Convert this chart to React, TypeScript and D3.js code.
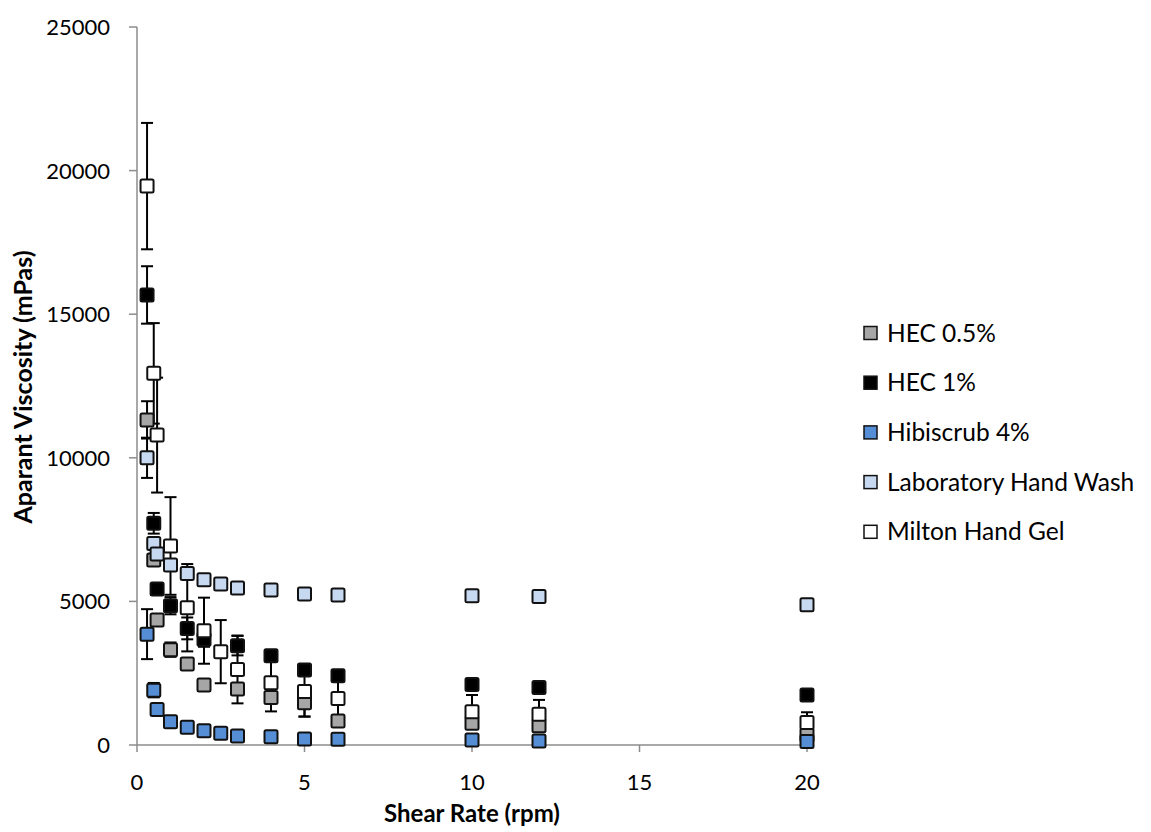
import React from "react";
import * as d3 from "d3";

const shearRates = [0.3, 0.5, 0.6, 1, 1.5, 2, 2.5, 3, 4, 5, 6, 10, 12, 20];

// values aligned with shearRates; null = no measurement
const hec05 = [11320, 6440, 4350, 3320, 2820, 2090, null, 1950, 1650, 1470, 840, 760, 670, 350];
const hec05Err = [650, 150, 150, 250, 150, 150, null, 150, 150, 480, 150, 150, 150, 150];
const hec1 = [15670, 7720, 5430, 4850, 4060, 3680, null, 3460, 3110, 2610, 2410, 2110, 2000, 1740];
const hec1Err = [1000, 360, 150, 300, 380, 260, null, 340, 150, 150, 150, 150, 150, 150];
const hibiscrub = [3860, 1910, 1240, 810, 620, 500, 410, 310, 290, 210, 200, 170, 140, 120];
const hibiscrubErr = [870, 250, 100, 100, 100, 100, 100, 100, 100, 100, 100, 100, 100, 100];
const labWash = [10000, 7020, 6650, 6270, 5970, 5750, 5610, 5470, 5400, 5260, 5220, 5200, 5170, 4880];
const labWashErr = [700, 150, 150, 150, 150, 150, 150, 150, 150, 150, 150, 150, 150, 150];
const milton = [19460, 12940, 10790, 6930, 4780, 3980, 3250, 2630, 2170, 1860, 1620, 1160, 1070, 780];
const miltonErr = [2200, 1750, 2000, 1700, 1520, 1150, 1100, 1180, 1000, 870, 800, 580, 500, 360];

const seriesNames = ["HEC 0.5%", "HEC 1%", "Hibiscrub 4%", "Laboratory Hand Wash", "Milton Hand Gel"];
const seriesColors = ["#a6a6a6", "#000000", "#558ed5", "#c6d9f1", "#ffffff"];
const seriesValues = [hec05, hec1, hibiscrub, labWash, milton];
const seriesErrors = [hec05Err, hec1Err, hibiscrubErr, labWashErr, miltonErr];

const xTicks = [0, 5, 10, 15, 20];
const yTicks = [0, 5000, 10000, 15000, 20000, 25000];

const FONT = "Lato, 'Open Sans', sans-serif";

export default function App() {
  const W = 1151;
  const H = 832;
  const x = d3.scaleLinear().domain([0, 20]).range([137, 807]);
  const y = d3.scaleLinear().domain([0, 25000]).range([745, 27]);
  const axisColor = "#8c8c8c";
  const ms = 13;
  const cap = 6;

  const points = seriesValues.map((vals, si) =>
    shearRates
      .map((sr, i) => ({ sr, v: vals[i], e: seriesErrors[si][i] }))
      .filter((p) => p.v !== null)
  );

  return (
    <svg width={W} height={H} style={{ position: "absolute", left: 0, top: 0 }}>
      <rect x={0} y={0} width={W} height={H} fill="#fff" />
      {/* axes */}
      <line x1={x(0)} x2={x(20)} y1={y(0)} y2={y(0)} stroke={axisColor} strokeWidth={1.5} />
      <line x1={x(0)} x2={x(0)} y1={y(0)} y2={y(25000)} stroke={axisColor} strokeWidth={1.5} />
      {xTicks.map((t) => (
        <g key={"xt" + t}>
          <line x1={x(t)} x2={x(t)} y1={y(0)} y2={y(0) + 7} stroke={axisColor} strokeWidth={1.5} />
          <text x={x(t)} y={y(0) + 45} textAnchor="middle" fontFamily={FONT} fontSize={22} fill="#000">
            {t}
          </text>
        </g>
      ))}
      {yTicks.map((t) => (
        <g key={"yt" + t}>
          <line x1={x(0) - 8} x2={x(0)} y1={y(t)} y2={y(t)} stroke={axisColor} strokeWidth={1.5} />
          <text x={x(0) - 27} y={y(t) + 8} textAnchor="end" fontFamily={FONT} fontSize={22} fill="#000">
            {t}
          </text>
        </g>
      ))}
      {/* axis titles */}
      <text x={472} y={822} textAnchor="middle" fontFamily={FONT} fontWeight="bold" fontSize={24} fill="#000">
        Shear Rate (rpm)
      </text>
      <text
        transform={`translate(32, 387) rotate(-90)`}
        textAnchor="middle"
        fontFamily={FONT}
        fontWeight="bold"
        fontSize={25}
        fill="#000"
      >
        Aparant Viscosity (mPas)
      </text>
      {/* error bars */}
      {points.map((pts, si) =>
        pts.map((p, i) => {
          const cx = x(p.sr);
          const y1 = y(p.v! + p.e!);
          const y2 = y(p.v! - p.e!);
          return (
            <g key={`e${si}-${i}`} stroke="#000" strokeWidth={2}>
              <line x1={cx} x2={cx} y1={y1} y2={y2} />
              <line x1={cx - cap} x2={cx + cap} y1={y1} y2={y1} />
              <line x1={cx - cap} x2={cx + cap} y1={y2} y2={y2} />
            </g>
          );
        })
      )}
      {/* markers */}
      {points.map((pts, si) =>
        pts.map((p, i) => (
          <rect
            key={`m${si}-${i}`}
            x={x(p.sr) - ms / 2}
            y={y(p.v!) - ms / 2}
            width={ms}
            height={ms}
            rx={1.5}
            fill={seriesColors[si]}
            stroke="#111"
            strokeWidth={2}
          />
        ))
      )}
      {/* legend */}
      {seriesNames.map((n, i) => (
        <g key={"lg" + i} transform={`translate(864, ${333 + i * 49.7})`}>
          <rect x={0} y={-6.5} width={13} height={13} fill={seriesColors[i]} stroke="#111" strokeWidth={1.5} />
          <text x={23} y={8.5} fontFamily={FONT} fontSize={24.5} fill="#000">
            {n}
          </text>
        </g>
      ))}
    </svg>
  );
}
